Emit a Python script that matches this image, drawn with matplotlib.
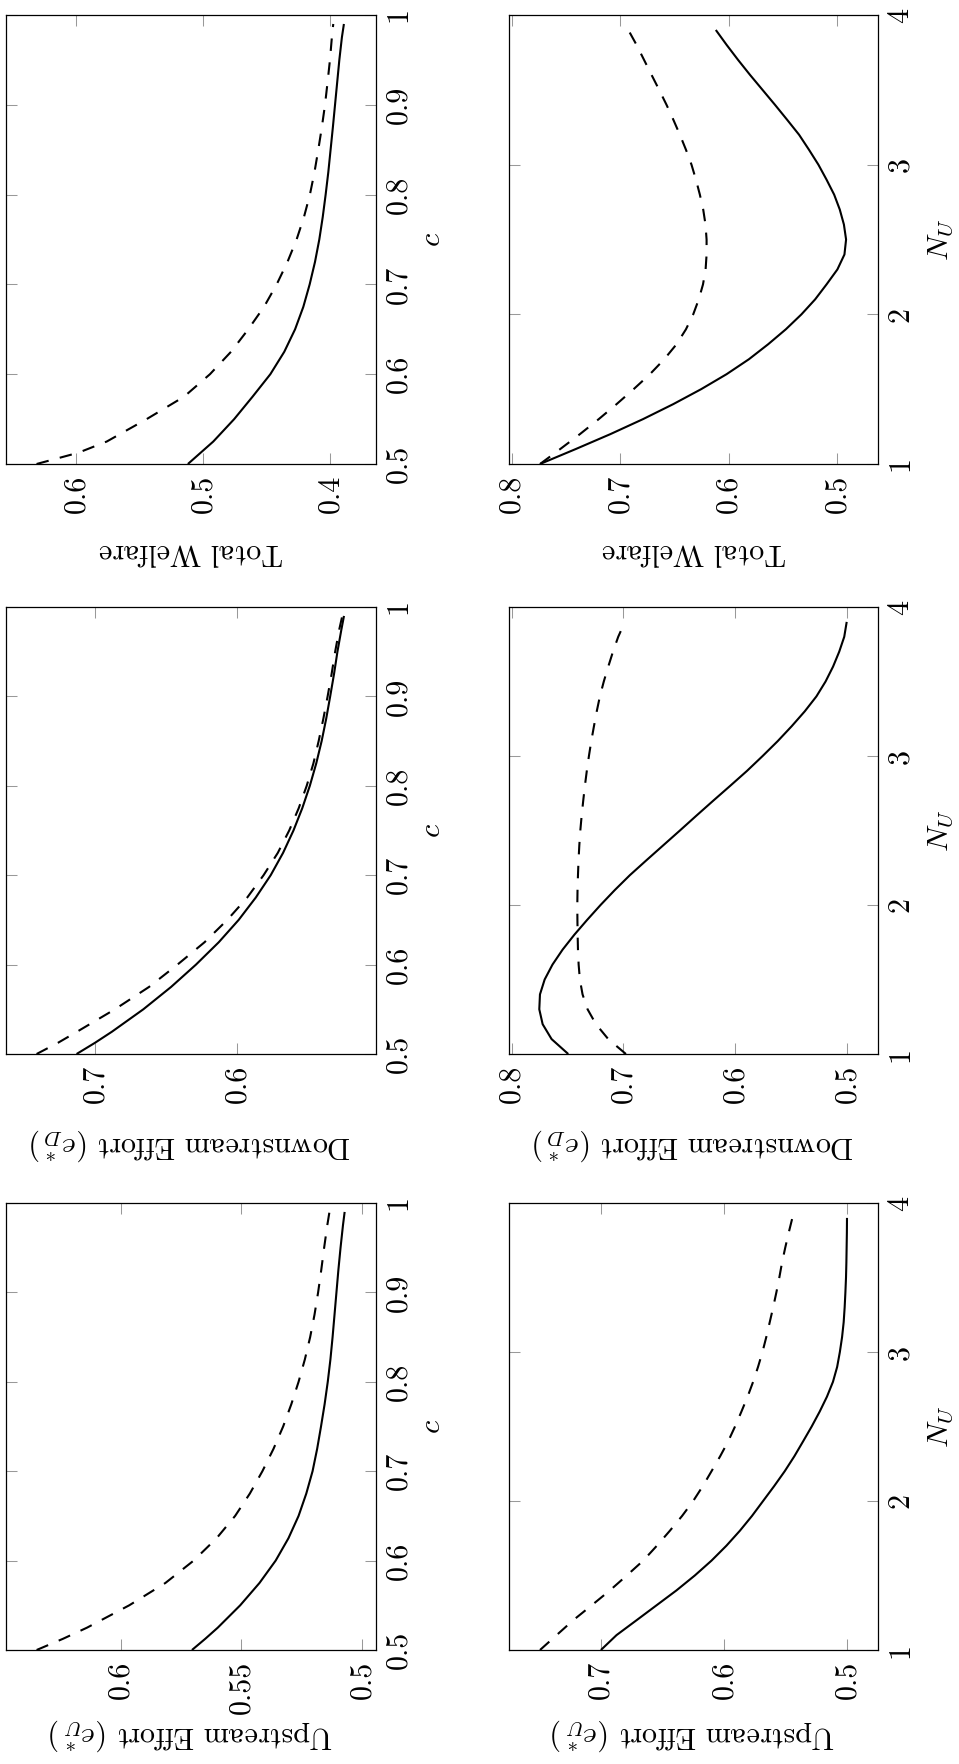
import matplotlib
matplotlib.use('Agg')
import matplotlib.pyplot as plt

plt.rcParams['font.family'] = 'serif'
plt.rcParams['font.serif'] = ['cmr10', 'DejaVu Serif']
plt.rcParams['mathtext.fontset'] = 'cm'
plt.rcParams['axes.formatter.use_mathtext'] = True

# parameter grids (values at these points)
c_vals = [0.5, 0.5125, 0.525, 0.55, 0.575, 0.6, 0.625, 0.65, 0.675, 0.7, 0.725,
          0.75, 0.775, 0.8, 0.825, 0.85, 0.875, 0.9, 0.925, 0.95, 0.975, 0.99]
n_vals = [1.0, 1.1, 1.2, 1.3, 1.4, 1.5, 1.6, 1.7, 1.8, 1.9,
          2.0, 2.1, 2.2, 2.3, 2.4, 2.5, 2.6, 2.7, 2.8, 2.9,
          3.0, 3.1, 3.2, 3.3, 3.4, 3.5, 3.6, 3.7, 3.8, 3.9]

# total welfare vs c
welfare_c_solid = [0.5120, 0.5020, 0.4920, 0.4755, 0.4610, 0.4470, 0.4360, 0.4275,
                   0.4210, 0.4160, 0.4118, 0.4084, 0.4057, 0.4034, 0.4013, 0.3995,
                   0.3977, 0.3960, 0.3943, 0.3926, 0.3906, 0.3890]
welfare_c_dashed = [0.6313, 0.5985, 0.5760, 0.5445, 0.5150, 0.4946, 0.4780, 0.4644,
                    0.4520, 0.4420, 0.4335, 0.4263, 0.4205, 0.4158, 0.4122, 0.4092,
                    0.4064, 0.4039, 0.4019, 0.4000, 0.3985, 0.3974]

# downstream effort vs c
down_c_solid = [0.7129, 0.7000, 0.6880, 0.6660, 0.6465, 0.6290, 0.6130, 0.5990,
                0.5870, 0.5765, 0.5678, 0.5605, 0.5543, 0.5490, 0.5445, 0.5407,
                0.5375, 0.5347, 0.5320, 0.5296, 0.5268, 0.5250]
down_c_dashed = [0.7410, 0.7260, 0.7125, 0.6860, 0.6620, 0.6420, 0.6230, 0.6070,
                 0.5930, 0.5815, 0.5715, 0.5635, 0.5568, 0.5512, 0.5465, 0.5428,
                 0.5395, 0.5365, 0.5337, 0.5312, 0.5283, 0.5262]

# upstream effort vs c
up_c_solid = [0.5705, 0.5650, 0.5598, 0.5505, 0.5425, 0.5358, 0.5305, 0.5263,
              0.5231, 0.5205, 0.5186, 0.5170, 0.5155, 0.5142, 0.5131, 0.5122,
              0.5114, 0.5106, 0.5098, 0.5089, 0.5079, 0.5072]
up_c_dashed = [0.6349, 0.6240, 0.6140, 0.5965, 0.5815, 0.5698, 0.5603, 0.5526,
               0.5465, 0.5413, 0.5367, 0.5327, 0.5293, 0.5263, 0.5237, 0.5215,
               0.5197, 0.5182, 0.5169, 0.5157, 0.5144, 0.5135]

# total welfare vs N_U
welfare_n_solid = [0.7739, 0.7410, 0.7090, 0.6790, 0.6512, 0.6255, 0.6021, 0.5815,
                   0.5638, 0.5475, 0.5331, 0.5205, 0.5100, 0.5000, 0.4935, 0.4920,
                   0.4940, 0.4978, 0.5030, 0.5100, 0.5175, 0.5262, 0.5353, 0.5463,
                   0.5575, 0.5690, 0.5805, 0.5915, 0.6020, 0.6120]
welfare_n_dashed = [0.7739, 0.7553, 0.7371, 0.7198, 0.7034, 0.6877, 0.6727, 0.6595,
                    0.6482, 0.6395, 0.6328, 0.6277, 0.6238, 0.6214, 0.6205, 0.6205,
                    0.6215, 0.6236, 0.6267, 0.6303, 0.6344, 0.6395, 0.6451, 0.6511,
                    0.6574, 0.6642, 0.6712, 0.6781, 0.6850, 0.6926]

# downstream effort vs N_U
down_n_solid = [0.7494, 0.7643, 0.7723, 0.7753, 0.7747, 0.7705, 0.7635, 0.7545,
                0.7440, 0.7325, 0.7205, 0.7078, 0.6943, 0.6795, 0.6645, 0.6495,
                0.6347, 0.6197, 0.6045, 0.5895, 0.5755, 0.5620, 0.5495, 0.5378,
                0.5274, 0.5192, 0.5125, 0.5070, 0.5025, 0.5003]
down_n_dashed = [0.6978, 0.7136, 0.7246, 0.7321, 0.7366, 0.7390, 0.7401, 0.7407,
                 0.7410, 0.7412, 0.7413, 0.7411, 0.7407, 0.7402, 0.7395, 0.7386,
                 0.7374, 0.7360, 0.7345, 0.7328, 0.7309, 0.7288, 0.7264, 0.7239,
                 0.7211, 0.7176, 0.7136, 0.7094, 0.7047, 0.6987]

# upstream effort vs N_U
up_n_solid = [0.7000, 0.6873, 0.6710, 0.6548, 0.6386, 0.6237, 0.6101, 0.5980,
              0.5871, 0.5772, 0.5682, 0.5592, 0.5506, 0.5428, 0.5357, 0.5287,
              0.5222, 0.5163, 0.5114, 0.5080, 0.5058, 0.5040, 0.5027, 0.5019,
              0.5013, 0.5008, 0.5005, 0.5003, 0.5001, 0.5000]
up_n_dashed = [0.7495, 0.7360, 0.7225, 0.7075, 0.6927, 0.6790, 0.6656, 0.6545,
               0.6440, 0.6340, 0.6250, 0.6172, 0.6101, 0.6031, 0.5966, 0.5910,
               0.5858, 0.5808, 0.5763, 0.5723, 0.5687, 0.5656, 0.5628, 0.5600,
               0.5574, 0.5550, 0.5528, 0.5502, 0.5474, 0.5444]

c_ticks = [0.5, 0.6, 0.7, 0.8, 0.9, 1.0]
c_ticklabels = ['0.5', '0.6', '0.7', '0.8', '0.9', '1']
n_ticks = [1, 2, 3, 4]
n_ticklabels = ['1', '2', '3', '4']

FS = 21.7
W, H = 959, 1764

fig = plt.figure(figsize=(W / 100, H / 100), dpi=100)


def rect(x0, y0, x1, y1):
    # pixel box -> figure fraction
    return [x0 / W, 1 - y1 / H, (x1 - x0) / W, (y1 - y0) / H]


def panel(box, p, solid, dashed, vlim, vticks, vlabels, plim, pticks, plabels,
          vname, pname, vname_y, pname_x):
    ax = fig.add_axes(rect(*box))
    ax.plot(solid, p, color='black', lw=1.5, solid_capstyle='butt')
    ax.plot(dashed, p, color='black', lw=1.5, dashes=(6.0, 5.5))
    ax.set_xlim(*vlim)
    ax.set_ylim(*plim)
    for s in ax.spines.values():
        s.set_linewidth(0.9)
    ax.tick_params(axis='both', direction='in', length=7.7, width=0.75, color='0.6',
                   top=True, bottom=True, left=True, right=True,
                   labelleft=False, labelright=True, labelsize=FS)
    ax.tick_params(axis='x', pad=8)
    ax.tick_params(axis='y', pad=6)
    ax.set_xticks(vticks)
    ax.set_xticklabels(vlabels, rotation=90, ha='center', va='top')
    ax.set_yticks(pticks)
    ax.set_yticklabels(plabels, rotation=90, ha='left', va='center')
    ax.set_xlabel(vname, fontsize=FS, rotation=180, rotation_mode='anchor',
                  ha='center', va='baseline')
    ax.xaxis.set_label_coords(0.5, vname_y)
    ax.yaxis.set_label_position('right')
    ax.set_ylabel(pname, fontsize=FS, rotation=90, rotation_mode='anchor',
                  ha='center', va='baseline')
    ax.yaxis.set_label_coords(pname_x, 0.5)
    return ax


left_col = (6, 376)
right_col = (509, 878)
rows = [(15, 464), (607, 1054), (1203, 1650)]

# row 1: total welfare
panel((left_col[0], rows[0][0], left_col[1], rows[0][1]), c_vals,
      welfare_c_solid, welfare_c_dashed, (0.6554, 0.3637),
      [0.6, 0.5, 0.4], ['0.6', '0.5', '0.4'], (0.5, 1.0), c_ticks, c_ticklabels,
      'Total Welfare', r'$c$', -0.176, 1.173)
panel((right_col[0], rows[0][0], right_col[1], rows[0][1]), n_vals,
      welfare_n_solid, welfare_n_dashed, (0.8025, 0.4626),
      [0.8, 0.7, 0.6, 0.5], ['0.8', '0.7', '0.6', '0.5'], (1, 4), n_ticks, n_ticklabels,
      'Total Welfare', r'$N_U$', -0.176, 1.19)

# row 2: downstream effort
panel((left_col[0], rows[1][0], left_col[1], rows[1][1]), c_vals,
      down_c_solid, down_c_dashed, (0.7625, 0.5025),
      [0.7, 0.6], ['0.7', '0.6'], (0.5, 1.0), c_ticks, c_ticklabels,
      r'Downstream Effort ($e^*_D$)', r'$c$', -0.186, 1.173)
panel((right_col[0], rows[1][0], right_col[1], rows[1][1]), n_vals,
      down_n_solid, down_n_dashed, (0.8024, 0.4723),
      [0.8, 0.7, 0.6, 0.5], ['0.8', '0.7', '0.6', '0.5'], (1, 4), n_ticks, n_ticklabels,
      r'Downstream Effort ($e^*_D$)', r'$N_U$', -0.186, 1.19)

# row 3: upstream effort
panel((left_col[0], rows[2][0], left_col[1], rows[2][1]), c_vals,
      up_c_solid, up_c_dashed, (0.6476, 0.4942),
      [0.6, 0.55, 0.5], ['0.6', '0.55', '0.5'], (0.5, 1.0), c_ticks, c_ticklabels,
      r'Upstream Effort ($e^*_U$)', r'$c$', -0.172, 1.173)
panel((right_col[0], rows[2][0], right_col[1], rows[2][1]), n_vals,
      up_n_solid, up_n_dashed, (0.7747, 0.4748),
      [0.7, 0.6, 0.5], ['0.7', '0.6', '0.5'], (1, 4), n_ticks, n_ticklabels,
      r'Upstream Effort ($e^*_U$)', r'$N_U$', -0.172, 1.19)

fig.savefig('out.png', dpi=100)
